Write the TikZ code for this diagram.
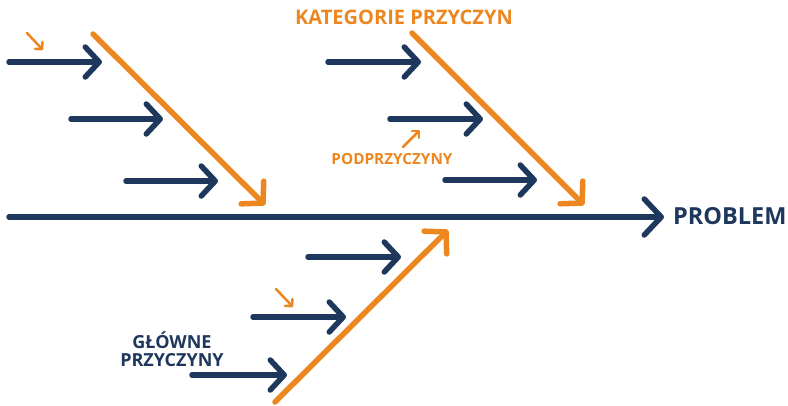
\documentclass[tikz,border=0pt]{standalone}
\usepackage{fontspec}
\setmainfont{Open Sans}
\usetikzlibrary{arrows.meta}
\definecolor{fishorange}{RGB}{236,135,32}
\definecolor{fishnavy}{RGB}{30,55,92}

\begin{document}
\begin{tikzpicture}[x=1pt,y=-1pt,
  spine/.style={draw=fishnavy, line width=5.5pt, line cap=round,
    -{Straight Barb[length=17pt,width=36pt,line width=5.5pt,round]}},
  causebone/.style={draw=fishorange, line width=5.5pt, line cap=round,
    -{Straight Barb[length=15pt,width=32pt,line width=5.5pt,round]}},
  subbone/.style={draw=fishnavy, line width=5.5pt, line cap=round,
    -{Straight Barb[length=14pt,width=30pt,line width=5.5pt,round]}},
  pointer/.style={draw=fishorange, line width=2.5pt, line cap=round,
    -{Straight Barb[length=5pt,width=10pt,line width=2.5pt,round]}},
  lbl/.style={inner sep=0pt, font=\bfseries\fontsize{#1}{#1}\selectfont},
]
\useasboundingbox (0,0) rectangle (788,405);

% main spine and its label
\coordinate (s0) at (9,217);
\coordinate (s1) at (664,217);
\draw[spine] (s0) -- (s1);
\node[lbl=23.5, text=fishnavy, anchor=west] (problem) at (673,216) {PROBLEM};

% cause category bones
\coordinate (a0) at (93,34);   \coordinate (a1) at (265,205);
\coordinate (b0) at (412,33);  \coordinate (b1) at (584,205);
\coordinate (c0) at (275,402); \coordinate (c1) at (448,230);
\draw[causebone] (a0) -- (a1);
\draw[causebone] (b0) -- (b1);
\draw[causebone] (c0) -- (c1);

% sub-cause arrows, upper left bone
\coordinate (p1) at (9,62);    \coordinate (q1) at (102,62);
\coordinate (p2) at (71,119);  \coordinate (q2) at (163,119);
\coordinate (p3) at (126,181); \coordinate (q3) at (218,181);
% upper right bone
\coordinate (p4) at (328,62);  \coordinate (q4) at (421,62);
\coordinate (p5) at (390,119); \coordinate (q5) at (483,119);
\coordinate (p6) at (445,180); \coordinate (q6) at (537,180);
% lower bone
\coordinate (p7) at (308,257); \coordinate (q7) at (401,257);
\coordinate (p8) at (253,317); \coordinate (q8) at (346,317);
\coordinate (p9) at (192,375); \coordinate (q9) at (287,375);
\foreach \i in {1,...,9} \draw[subbone] (p\i) -- (q\i);

% small pointers
\coordinate (r1) at (27,33);   \coordinate (t1) at (43,50);
\coordinate (r2) at (403,147); \coordinate (t2) at (420,130);
\coordinate (r3) at (276,289); \coordinate (t3) at (293,307);
\foreach \i in {1,2,3} \draw[pointer] (r\i) -- (t\i);

% labels
\node[lbl=20, text=fishorange] (kategorie) at (404,17) {KATEGORIE PRZYCZYN};
\node[lbl=15.3, text=fishorange] (podprzyczyny) at (392,159) {PODPRZYCZYNY};
\node[lbl=18, text=fishnavy, align=center] (glowne) at (172,349) {GŁÓWNE\\PRZYCZYNY};
\end{tikzpicture}
\end{document}
